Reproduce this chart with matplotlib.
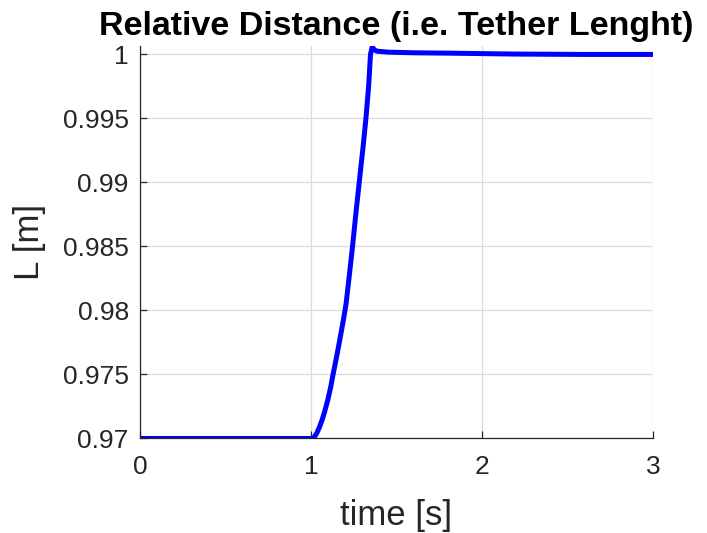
import matplotlib
matplotlib.use("Agg")
import matplotlib.pyplot as plt

# tether length
time_s = [0.0, 1.0, 1.01, 1.02, 1.035, 1.05, 1.065, 1.08, 1.10, 1.115, 1.129,
          1.15, 1.167, 1.19, 1.205, 1.223, 1.243, 1.262, 1.282, 1.304, 1.322,
          1.337, 1.348, 1.358, 1.368, 1.384, 1.45, 1.6, 1.81, 2.2, 2.6, 3.0]
length_m = [0.97, 0.97, 0.97003, 0.97012, 0.97045, 0.9709, 0.97145, 0.9721,
            0.9731, 0.9740, 0.975, 0.9764, 0.9776, 0.9793, 0.9805, 0.9826,
            0.985, 0.9875, 0.99, 0.9927, 0.9951, 0.9975, 1.0, 1.0006, 1.0004,
            1.00026, 1.00018, 1.00013, 1.0001, 1.00003, 1.0, 1.0]

xticks = [0, 1, 2, 3]
yticks = [0.97, 0.975, 0.98, 0.985, 0.99, 0.995, 1.0]
ytick_labels = ["0.97", "0.975", "0.98", "0.985", "0.99", "0.995", "1"]

plt.rcParams['font.family'] = ['Liberation Sans', 'DejaVu Sans']
dark = '#262626'

fig = plt.figure(figsize=(7.07, 5.33), dpi=100)
ax = fig.add_axes([0.198, 0.1773, 0.7256, 0.7364])

ax.plot(time_s, length_m, color=(0, 0, 1), linewidth=3.6,
        solid_joinstyle='round', solid_capstyle='round')

ax.set_xlim(0, 3)
ax.set_ylim(0.97, 1.00066)
ax.set_xticks(xticks)
ax.set_xticklabels([str(t) for t in xticks])
ax.set_yticks(yticks)
ax.set_yticklabels(ytick_labels)

ax.grid(True, color='#dcdcdc', linewidth=0.9)
ax.set_axisbelow(True)
for s in ['top', 'right']:
    ax.spines[s].set_visible(False)
for s in ['left', 'bottom']:
    ax.spines[s].set_color(dark)
    ax.spines[s].set_linewidth(0.9)
ax.tick_params(direction='in', length=5, width=0.9, color=dark,
               labelcolor=dark, labelsize=19)
ax.tick_params(axis='y', pad=8)
ax.tick_params(axis='x', pad=12)

ax.set_title("Relative Distance (i.e. Tether Lenght)", fontsize=24.5,
             fontweight='bold', pad=8)
ax.set_xlabel("time [s]", fontsize=25, color=dark, labelpad=14)
ax.set_ylabel("L [m]", fontsize=25, color=dark, labelpad=12)

fig.savefig("out.png", dpi=100)
